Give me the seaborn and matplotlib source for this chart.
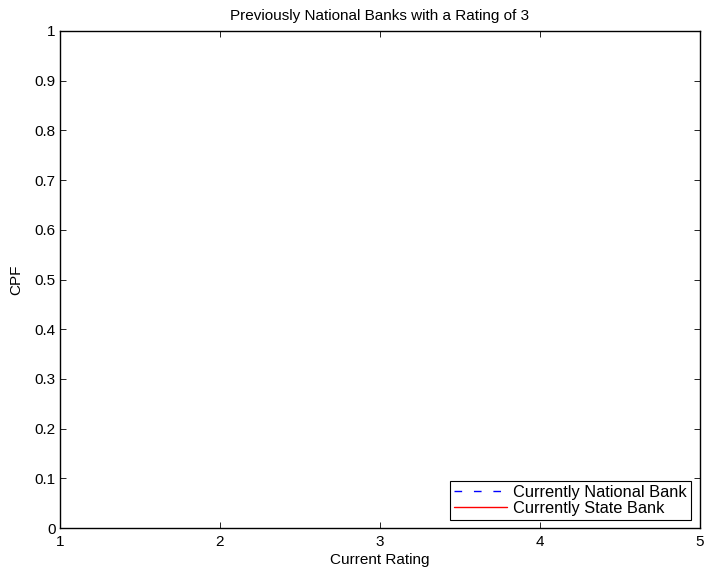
import matplotlib
matplotlib.use("Agg")
import matplotlib.pyplot as plt
import seaborn as sns
import pandas as pd

# Current rating vs cumulative probability; no observations in either group
national_rating = []
national_cpf = []
state_rating = []
state_cpf = []

x_ticks = [1, 2, 3, 4, 5]
y_ticks = [0, 0.1, 0.2, 0.3, 0.4, 0.5, 0.6, 0.7, 0.8, 0.9, 1]

sns.set_theme(style="ticks")
plt.rcParams["font.family"] = ["Liberation Sans", "DejaVu Sans"]
plt.rcParams["text.color"] = "black"
plt.rcParams["axes.labelcolor"] = "black"
plt.rcParams["xtick.color"] = "black"
plt.rcParams["ytick.color"] = "black"
FS = 11
plt.rcParams["font.size"] = FS

W, H = 706, 568
fig = plt.figure(figsize=(W / 100, H / 100), dpi=100)
ax = fig.add_axes([60 / W, 1 - 528 / H, (700 - 60) / W, (528 - 31) / H])

nat = pd.DataFrame({"rating": pd.Series(national_rating, dtype=float),
                    "cpf": pd.Series(national_cpf, dtype=float)})
sta = pd.DataFrame({"rating": pd.Series(state_rating, dtype=float),
                    "cpf": pd.Series(state_cpf, dtype=float)})

h1, = ax.plot(nat["rating"], nat["cpf"], color="#0000ff", linestyle=(0, (5.5, 8.5)), linewidth=1.0,
              label="Currently National Bank")
h2, = ax.plot(sta["rating"], sta["cpf"], color="#ff0000", linestyle="-", linewidth=1.0,
              label="Currently State Bank")

ax.set_xlim(1, 5)
ax.set_ylim(0, 1)
ax.set_xticks(x_ticks)
ax.set_xticklabels([str(t) for t in x_ticks], fontsize=FS)
ax.set_yticks(y_ticks)
ax.set_yticklabels([f"{t:g}" for t in y_ticks], fontsize=FS)
ax.tick_params(direction="in", length=4.5, width=0.6, top=True, right=True, color="black")
ax.tick_params(axis="x", pad=5)
ax.tick_params(axis="y", pad=3)
for s in ax.spines.values():
    s.set_visible(True)
    s.set_color("black")
    s.set_linewidth(1.0)

ax.set_title("Previously National Banks with a Rating of 3", fontsize=FS, pad=8)
ax.set_xlabel("Current Rating", fontsize=FS, labelpad=3)
ax.set_ylabel("CPF", fontsize=FS, labelpad=8)

LFS = 11.8
leg = fig.legend(handles=[h1, h2], loc="lower right",
                 bbox_to_anchor=(691 / W, 1 - 520 / H), frameon=True, fancybox=False,
                 fontsize=LFS, borderpad=0.25, labelspacing=0.05, handlelength=3.2,
                 handletextpad=0.4, borderaxespad=0)
leg.get_frame().set_edgecolor("black")
leg.get_frame().set_linewidth(0.8)
leg.get_frame().set_facecolor("white")
leg.get_frame().set_alpha(1)

fig.savefig("out.png", dpi=100, facecolor="white")
